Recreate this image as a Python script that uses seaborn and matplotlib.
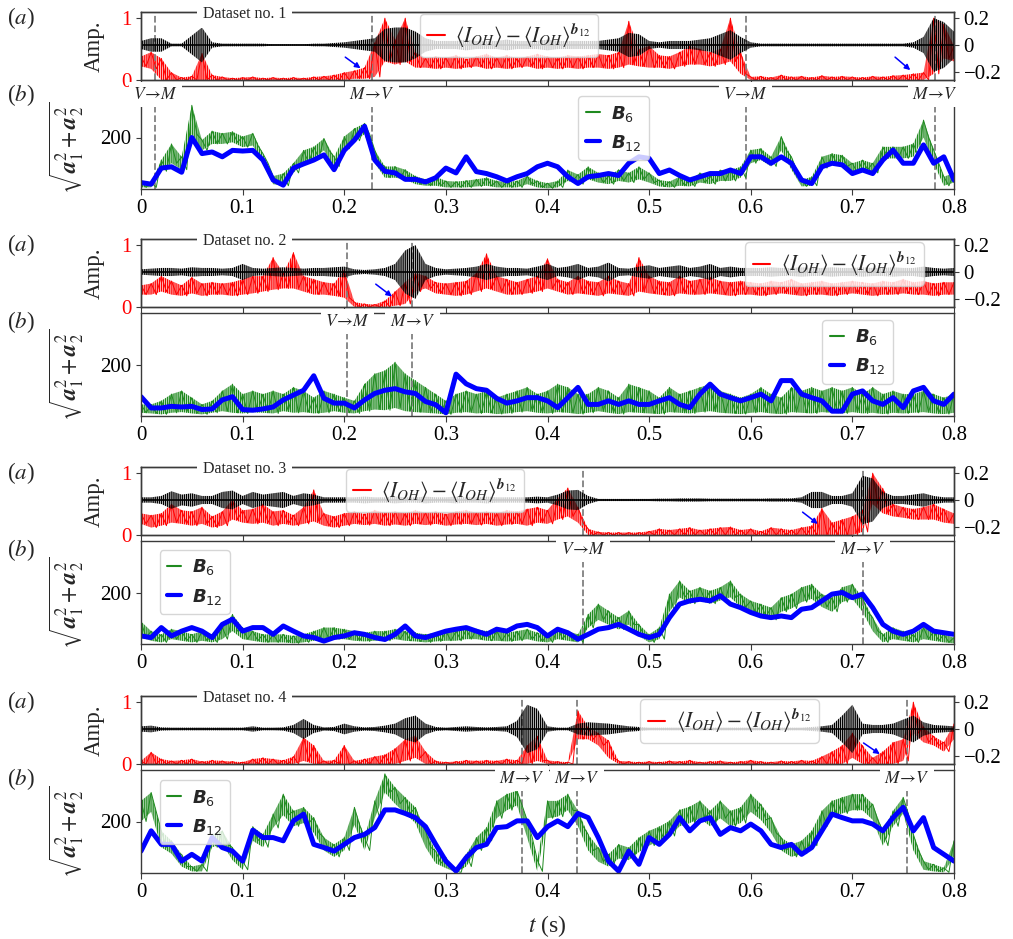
import numpy as np
import matplotlib
matplotlib.use("Agg")
import matplotlib.pyplot as plt
import matplotlib.transforms as mtransforms
from matplotlib.lines import Line2D
from matplotlib.font_manager import FontProperties
import seaborn as sns

# time grid (s), one reading every 0.01 s
t = np.round(np.arange(81) * 0.01, 2)

# ---------------- dataset no. 1 ----------------
red1_hi = [0.38,0.45,0.35,0.12,0.04,0.06,0.43,0.08,0.05,0.03,
           0.04,0.05,0.03,0.04,0.03,0.04,0.03,0.05,0.06,0.08,
           0.12,0.15,0.20,0.60,1.00,0.65,1.00,0.45,0.35,0.38,
           0.36,0.40,0.34,0.38,0.42,0.36,0.40,0.35,0.38,0.42,
           0.38,0.36,0.40,0.38,0.40,0.42,0.40,0.45,0.95,0.50,
           0.55,0.40,0.38,0.45,0.55,0.50,0.45,0.50,1.00,0.45,
           0.05,0.06,0.04,0.08,0.05,0.06,0.04,0.07,0.05,0.06,
           0.05,0.04,0.06,0.05,0.07,0.08,0.10,0.12,1.00,0.90,
           0.55]
red1_lo = [0.22,0.18,0.00,0.00,0.00,0.00,0.00,0.00,0.00,0.00,
           0.00,0.00,0.00,0.00,0.00,0.00,0.00,0.00,0.00,0.00,
           0.00,0.02,0.02,0.05,0.30,0.25,0.30,0.20,0.20,0.18,
           0.20,0.18,0.20,0.22,0.18,0.20,0.18,0.20,0.22,0.18,
           0.20,0.18,0.20,0.18,0.20,0.20,0.18,0.20,0.25,0.22,
           0.20,0.20,0.18,0.22,0.25,0.25,0.22,0.25,0.30,0.10,
           0.00,0.00,0.00,0.00,0.00,0.00,0.00,0.00,0.00,0.00,
           0.00,0.00,0.00,0.00,0.00,0.00,0.00,0.00,0.10,0.35,
           0.30]
blk1 = [0.03,0.05,0.05,0.01,0.01,0.07,0.13,0.02,0.01,0.01,
        0.01,0.01,0.01,0.005,0.005,0.005,0.005,0.01,0.01,0.015,
        0.02,0.03,0.04,0.05,0.12,0.13,0.13,0.10,0.05,0.03,
        0.03,0.03,0.04,0.03,0.03,0.03,0.04,0.03,0.03,0.03,
        0.04,0.03,0.03,0.03,0.03,0.03,0.04,0.05,0.09,0.08,
        0.03,0.02,0.03,0.03,0.03,0.04,0.05,0.08,0.11,0.06,
        0.02,0.01,0.01,0.01,0.01,0.01,0.01,0.01,0.01,0.01,
        0.01,0.01,0.01,0.01,0.01,0.01,0.02,0.06,0.20,0.17,
        0.10]
green1_hi = [65,60,130,180,140,300,192,220,213,218,
             203,213,150,80,88,120,160,171,197,140,
             203,228,244,161,110,110,100,80,70,78,
             65,63,66,70,75,65,62,65,80,65,
             58,65,99,85,109,90,80,100,90,109,
             90,68,63,78,68,90,80,99,99,109,
             161,166,140,203,140,68,78,140,150,145,
             120,130,120,171,171,171,181,254,161,78,
             90]
green1_lo = [45,45,95,120,100,210,160,180,180,185,
             170,175,120,55,50,90,120,135,160,110,
             165,190,210,120,75,75,70,55,50,50,
             45,45,45,48,50,45,45,45,55,45,
             42,45,65,55,70,60,55,65,60,70,
             60,48,45,50,48,60,55,65,65,75,
             120,130,110,160,100,48,50,105,115,110,
             90,100,90,135,135,135,140,200,120,50,
             60]
blue1 = [60,55,105,109,92,200,150,155,140,160,
         158,160,130,68,52,105,118,130,146,100,
         160,192,235,130,95,90,70,70,62,75,
         105,90,140,94,88,78,65,78,88,109,
         120,109,78,57,78,82,88,82,120,140,
         135,88,99,82,68,78,88,88,99,88,
         140,140,120,140,120,68,57,109,120,115,
         88,99,88,130,161,120,120,177,120,140,
         68]
trans1 = [(0.014, 'V', 'M'), (0.227, 'M', 'V'), (0.595, 'V', 'M'), (0.781, 'M', 'V')]
arrows1 = [(0.201, 0.37, 0.216, 0.19), (0.742, 0.37, 0.757, 0.16)]

# ---------------- dataset no. 2 ----------------
red2_hi = [0.35,0.38,0.50,0.42,0.35,0.48,0.38,0.40,0.38,0.40,
           0.45,0.50,0.50,0.80,0.55,0.88,0.50,0.45,0.40,0.38,
           0.60,0.08,0.05,0.04,0.10,0.25,0.40,0.55,0.50,0.40,
           0.38,0.40,0.42,0.55,0.86,0.50,0.45,0.40,0.45,0.50,
           0.78,0.45,0.40,0.50,0.42,0.40,0.50,0.42,0.38,0.80,
           0.50,0.42,0.40,0.50,0.42,0.45,0.48,0.42,0.40,0.42,
           0.40,0.38,0.42,0.40,0.45,0.38,0.40,0.42,0.38,0.40,
           0.42,0.40,0.38,0.42,0.40,0.45,0.40,0.42,0.38,0.40,
           0.40]
red2_lo = [0.20,0.20,0.25,0.20,0.18,0.22,0.18,0.20,0.20,0.18,
           0.20,0.22,0.25,0.28,0.30,0.30,0.25,0.20,0.20,0.18,
           0.15,0.00,0.00,0.00,0.00,0.02,0.05,0.25,0.30,0.22,
           0.20,0.18,0.20,0.25,0.30,0.25,0.20,0.20,0.22,0.25,
           0.30,0.25,0.20,0.22,0.20,0.18,0.22,0.20,0.18,0.25,
           0.22,0.20,0.18,0.22,0.20,0.20,0.22,0.20,0.18,0.20,
           0.20,0.18,0.20,0.22,0.20,0.18,0.20,0.20,0.18,0.20,
           0.22,0.20,0.18,0.20,0.20,0.22,0.20,0.20,0.18,0.20,
           0.20]
blk2 = [0.02,0.025,0.03,0.03,0.025,0.035,0.03,0.03,0.025,0.03,
        0.06,0.03,0.025,0.03,0.035,0.03,0.025,0.03,0.03,0.035,
        0.04,0.02,0.015,0.02,0.03,0.06,0.16,0.20,0.06,0.03,
        0.02,0.025,0.03,0.04,0.06,0.04,0.03,0.03,0.025,0.04,
        0.06,0.03,0.04,0.06,0.03,0.04,0.07,0.03,0.025,0.04,
        0.05,0.03,0.04,0.05,0.03,0.04,0.06,0.03,0.04,0.03,
        0.03,0.03,0.035,0.03,0.03,0.035,0.03,0.03,0.035,0.03,
        0.03,0.035,0.03,0.03,0.035,0.03,0.03,0.04,0.03,0.025,
        0.03]
green2_hi = [76,76,87,108,118,97,76,87,118,139,
             108,118,108,118,108,129,118,97,118,108,
             97,87,139,171,181,207,171,150,129,108,
             87,108,118,108,118,97,108,118,129,108,
             118,139,129,108,108,129,118,97,139,129,
             118,97,129,108,118,129,139,118,108,97,
             108,129,108,97,129,118,129,118,129,118,
             129,108,129,108,118,108,108,118,108,97,
             108]
green2_lo = [50,48,45,50,52,48,45,50,55,50,
             48,52,50,48,55,50,52,48,50,55,
             50,48,55,60,58,65,55,52,50,48,
             45,50,52,48,50,46,48,52,55,50,
             48,52,50,46,50,55,50,46,52,50,
             48,46,52,50,48,52,55,50,48,46,
             50,52,48,46,52,50,48,52,50,48,
             52,48,50,46,50,48,50,52,48,46,
             50]
blue2 = [100,65,65,70,68,70,60,62,90,100,
         60,58,62,68,90,105,120,165,95,80,
         80,65,90,110,120,125,115,110,85,75,
         50,170,140,125,120,95,80,87,97,97,
         87,66,97,129,76,76,87,76,87,76,
         76,87,97,76,66,108,139,108,97,87,
         97,108,87,150,150,108,97,87,55,55,
         108,118,87,76,97,66,118,129,87,76,
         108]
trans2 = [(0.203, 'V', 'M'), (0.267, 'M', 'V')]
arrows2 = [(0.231, 0.37, 0.247, 0.17)]

# ---------------- dataset no. 3 ----------------
red3_hi = [0.35,0.32,0.35,0.50,0.40,0.38,0.45,0.30,0.38,0.57,
           0.40,0.42,0.50,0.38,0.40,0.32,0.45,0.73,0.35,0.30,
           0.35,0.38,0.34,0.40,0.36,0.38,0.35,0.40,0.36,0.38,
           0.34,0.38,0.40,0.36,0.38,0.35,0.40,0.38,0.42,0.45,
           0.40,0.60,0.76,0.45,0.10,0.05,0.04,0.04,0.04,0.04,
           0.06,0.10,0.08,0.10,0.12,0.08,0.10,0.12,0.13,0.08,
           0.10,0.06,0.12,0.10,0.08,0.12,0.15,0.43,0.20,0.25,
           0.30,0.40,1.00,0.75,0.50,0.45,0.42,0.45,0.50,0.42,
           0.35]
red3_lo = [0.18,0.12,0.15,0.20,0.18,0.15,0.18,0.12,0.15,0.25,
           0.20,0.18,0.20,0.15,0.18,0.15,0.18,0.22,0.15,0.12,
           0.15,0.18,0.16,0.18,0.15,0.17,0.15,0.18,0.16,0.18,
           0.15,0.17,0.18,0.16,0.18,0.15,0.17,0.18,0.15,0.20,
           0.18,0.25,0.30,0.20,0.00,0.00,0.00,0.00,0.00,0.00,
           0.00,0.00,0.00,0.00,0.00,0.00,0.00,0.00,0.00,0.00,
           0.00,0.00,0.00,0.00,0.00,0.00,0.00,0.00,0.00,0.00,
           0.00,0.05,0.50,0.35,0.30,0.28,0.25,0.25,0.25,0.20,
           0.18]
blk3 = [0.02,0.02,0.03,0.065,0.04,0.05,0.03,0.03,0.06,0.07,
        0.03,0.06,0.04,0.05,0.06,0.03,0.05,0.04,0.02,0.02,
        0.02,0.02,0.025,0.02,0.02,0.025,0.02,0.02,0.025,0.02,
        0.02,0.025,0.02,0.02,0.025,0.02,0.02,0.02,0.02,0.025,
        0.02,0.04,0.07,0.075,0.03,0.008,0.008,0.008,0.008,0.008,
        0.008,0.01,0.01,0.012,0.012,0.012,0.01,0.01,0.01,0.01,
        0.01,0.01,0.012,0.012,0.012,0.02,0.06,0.06,0.03,0.03,
        0.05,0.18,0.16,0.06,0.03,0.03,0.04,0.05,0.03,0.02,
        0.02]
green3_hi = [110,80,70,86,80,70,80,70,91,132,
             91,80,70,70,70,65,70,80,91,91,
             86,80,75,80,80,86,80,75,70,75,
             80,80,86,86,80,80,75,80,86,75,
             70,91,80,70,132,164,143,122,143,101,
             70,91,195,236,205,216,205,216,236,195,
             174,164,153,184,195,216,226,195,184,216,
             226,184,122,70,91,80,70,91,80,70,
             60]
green3_lo = [60,50,45,55,50,45,50,45,55,80,
             55,50,45,45,45,42,45,50,55,55,
             55,50,48,50,50,55,50,48,45,48,
             50,50,55,55,50,50,48,50,55,48,
             45,55,50,45,90,115,100,85,100,65,
             45,55,140,185,165,175,165,175,185,155,
             135,125,115,140,150,170,180,155,140,170,
             180,140,80,45,55,50,45,55,50,45,
             42]
blue3 = [65,60,91,65,80,91,80,60,101,117,
         80,91,91,70,96,80,65,60,49,60,
         65,75,70,60,54,70,96,65,60,70,
         80,86,91,80,70,86,80,96,101,91,
         65,86,75,55,70,86,91,101,86,70,
         60,70,122,164,174,179,174,190,164,153,
         138,127,122,127,122,148,153,174,195,200,
         184,195,153,101,80,70,80,101,80,75,
         70]
trans3 = [(0.435, 'V', 'M'), (0.710, 'M', 'V')]
arrows3 = [(0.651, 0.37, 0.666, 0.18)]

# ---------------- dataset no. 4 ----------------
red4_hi = [0.05,0.19,0.08,0.05,0.06,0.08,0.04,0.06,0.05,0.04,
           0.03,0.08,0.10,0.08,0.06,0.12,0.43,0.30,0.05,0.06,
           0.30,0.05,0.08,0.12,0.15,0.25,0.40,0.46,0.20,0.05,
           0.03,0.04,0.06,0.05,0.06,0.05,0.08,0.06,0.30,0.45,
           0.06,0.04,0.03,0.86,0.60,0.50,0.38,0.05,0.04,0.03,
           0.04,0.03,0.05,0.04,0.06,0.03,0.04,0.05,0.03,0.04,
           0.06,0.04,0.03,0.05,0.04,0.06,0.05,0.12,0.20,0.30,
           0.50,0.30,0.10,0.20,0.35,0.40,1.00,0.60,0.45,0.35,
           0.65]
red4_lo = [0,0,0,0,0,0,0,0,0,0,
           0,0,0,0,0,0,0.05,0,0,0,
           0,0,0,0,0,0,0.05,0.10,0,0,
           0,0,0,0,0,0,0,0,0,0.05,
           0,0,0,0.40,0.40,0.30,0.10,0,0,0,
           0,0,0,0,0,0,0,0,0,0,
           0,0,0,0,0,0,0,0,0,0,
           0.10,0,0,0,0,0.05,0.50,0.35,0.30,0.20,
           0.40]
blk4 = [0.02,0.025,0.012,0.01,0.01,0.01,0.01,0.01,0.01,0.01,
        0.01,0.02,0.01,0.01,0.012,0.03,0.075,0.03,0.012,0.015,
        0.04,0.02,0.012,0.015,0.025,0.04,0.08,0.10,0.04,0.015,
        0.01,0.015,0.02,0.015,0.012,0.015,0.02,0.06,0.18,0.15,
        0.02,0.01,0.01,0.04,0.05,0.045,0.04,0.03,0.02,0.015,
        0.01,0.01,0.01,0.01,0.01,0.01,0.01,0.01,0.01,0.01,
        0.01,0.01,0.01,0.01,0.01,0.01,0.015,0.02,0.03,0.10,
        0.18,0.04,0.03,0.03,0.04,0.07,0.10,0.05,0.03,0.025,
        0.02]
green4_hi = [264,290,171,140,98,60,67,160,171,119,
             77,184,160,223,285,233,244,212,150,129,
             150,244,150,264,348,306,275,244,171,108,
             88,46,98,150,181,264,285,296,204,80,
             264,264,285,233,160,119,98,129,119,150,
             171,184,202,236,246,264,233,264,233,244,
             285,254,212,150,129,140,171,233,264,275,
             285,285,254,171,233,275,160,77,67,56,
             140]
green4_lo = [200,230,120,100,60,45,45,120,130,80,
             50,140,120,180,220,185,195,165,110,90,
             110,190,110,210,290,255,225,195,120,70,
             55,42,60,110,140,210,235,250,150,45,
             210,215,235,185,110,75,60,85,80,105,
             125,140,155,185,195,210,185,210,185,195,
             230,205,165,110,90,100,125,185,215,225,
             235,235,205,125,185,225,110,50,45,42,
             90]
blue4 = [108,171,129,129,77,98,77,150,119,108,
         77,173,150,150,140,202,223,129,119,108,
         129,150,160,181,236,236,225,212,184,129,
         77,46,88,119,129,181,184,202,202,150,
         184,202,184,225,212,150,77,46,108,67,
         150,129,160,212,171,202,212,160,181,171,
         192,171,129,119,129,98,119,171,223,212,
         202,202,192,171,212,244,171,212,119,98,
         77]
trans4 = [(0.375, 'M', 'V'), (0.429, 'M', 'V'), (0.754, 'M', 'V')]
arrows4 = [(0.711, 0.34, 0.727, 0.16)]

datasets = [
    (red1_hi, red1_lo, blk1, green1_hi, green1_lo, blue1, trans1, arrows1),
    (red2_hi, red2_lo, blk2, green2_hi, green2_lo, blue2, trans2, arrows2),
    (red3_hi, red3_lo, blk3, green3_hi, green3_lo, blue3, trans3, arrows3),
    (red4_hi, red4_lo, blk4, green4_hi, green4_lo, blue4, trans4, arrows4),
]

# legend anchors (axes fraction, upper-left corner of the frame)
leg_a_pos = [(0.343, 0.97), (0.743, 0.95), (0.252, 0.97), (0.614, 0.95)]
leg_b_pos = [(0.538, 0.90), (0.838, 0.93), (0.023, 0.91), (0.023, 0.90)]

sns.set_style("ticks")
plt.rcParams['font.family'] = ['Liberation Serif', 'DejaVu Serif']
plt.rcParams['mathtext.fontset'] = 'stix'
plt.rcParams['axes.edgecolor'] = '#3a3a3a'
plt.rcParams['xtick.color'] = '#3a3a3a'
plt.rcParams['ytick.color'] = '#3a3a3a'
plt.rcParams['xtick.labelcolor'] = 'black'
plt.rcParams['ytick.labelcolor'] = 'black'
plt.rcParams['hatch.linewidth'] = 1.0

RED, GREEN, BLUE = '#ff0000', '#1f8a1f', '#0000ff'
DENSE = '|' * 8

W, H = 1013, 939
fig = plt.figure(figsize=(W / 100, H / 100), dpi=100)

a_tops = [12, 239, 467, 696]
A_H, B_H, GAP = 68, 103, 6
X0, XW = 141, 813
TICK_FS = 15

xt = np.round(np.arange(0, 0.81, 0.1), 1)
xt_lab = ['0'] + ['%.1f' % v for v in xt[1:]]


def zigzag(hi, lo):
    x = np.column_stack([t, t + 0.005]).ravel()
    y = np.column_stack([hi, lo]).ravel()
    return x, y


def dense_band(ax, lo, hi, color):
    # fast oscillation drawn as a densely hatched band between its extremes
    ax.fill_between(t, lo, hi, facecolor='none', edgecolor=color,
                    hatch=DENSE, lw=0)


for k, (rhi, rlo, blk, ghi, glo, blu, trans, arrows) in enumerate(datasets):
    top_a = a_tops[k]
    top_b = top_a + A_H + GAP
    ax_a = fig.add_axes([X0 / W, 1 - (top_a + A_H) / H, XW / W, A_H / H])
    ax_b = fig.add_axes([X0 / W, 1 - (top_b + B_H) / H, XW / W, B_H / H])
    axt = ax_a.twinx()

    # (a) red amplitude on the left axis
    dense_band(ax_a, rlo, rhi, RED)
    xr, yr = zigzag(rhi, rlo)
    sns.lineplot(x=xr, y=yr, ax=ax_a, color=RED, lw=0.7,
                 estimator=None, sort=False)
    # (a) black signal on the right axis
    env = np.array(blk)
    dense_band(axt, -env, env, 'black')
    sns.lineplot(x=t, y=np.zeros_like(t), ax=axt, color='black', lw=1.2,
                 estimator=None)

    # (b) B6 green, B12 blue
    dense_band(ax_b, glo, ghi, GREEN)
    xg, yg = zigzag(ghi, glo)
    sns.lineplot(x=xg, y=yg, ax=ax_b, color=GREEN, lw=0.7,
                 estimator=None, sort=False)
    sns.lineplot(x=t, y=blu, ax=ax_b, color=BLUE, lw=3.6,
                 estimator=None)

    for ax in (ax_a, ax_b, axt):
        ax.set_xlim(0, 0.8)
        for s in ax.spines.values():
            s.set_visible(True)
            s.set_linewidth(1.0)
    ax_a.set_ylim(0, 1.1)
    axt.set_ylim(-0.26, 0.245)
    ax_b.set_ylim(40, 360)

    ax_a.set_xticks(xt)
    ax_a.tick_params(axis='x', labelbottom=False, length=4)
    ax_b.set_xticks(xt)
    ax_b.set_xticklabels(xt_lab, fontsize=TICK_FS)
    ax_b.tick_params(axis='x', length=4)

    ax_a.set_yticks([0, 1])
    ax_a.set_yticklabels(['0', '1'], fontsize=TICK_FS, color=RED)
    axt.set_yticks([-0.2, 0, 0.2])
    axt.set_yticklabels(['\u22120.2', '0', '0.2'], fontsize=TICK_FS)
    ax_b.set_yticks([200])
    ax_b.set_yticklabels(['200'], fontsize=TICK_FS)

    ax_a.set_ylabel('Amp.', fontsize=16.5)
    ax_a.yaxis.set_label_coords(-0.045, 0.5)
    ax_b.set_ylabel(r'$\sqrt{\mathbfit{a}_1^2+\mathbfit{a}_2^2}$', fontsize=17)
    ax_b.yaxis.set_label_coords(-0.069, 0.4)

    ax_a.text(-0.148, 0.91, r'($a$)', transform=ax_a.transAxes,
              ha='center', va='center', fontsize=16.5)
    ax_b.text(-0.148, 0.91, r'($b$)', transform=ax_b.transAxes,
              ha='center', va='center', fontsize=16.5)

    # transitions: dashed lines and labels
    tr_b = mtransforms.blended_transform_factory(ax_b.transData, ax_b.transAxes)
    for (tx, s0, s1) in trans:
        ax_a.axvline(tx, color='#808080', ls='--', lw=1.3, zorder=1)
        ax_b.axvline(tx, color='#808080', ls='--', lw=1.3, zorder=1)
        ax_b.text(tx, 0.915, r'$%s\!\rightarrow\! %s$' % (s0, s1), transform=tr_b,
                  ha='center', va='center', fontsize=12.5, zorder=10, clip_on=False,
                  bbox=dict(boxstyle='square,pad=0.25', fc='white', ec='none'))

    tr_a = mtransforms.blended_transform_factory(axt.transData, axt.transAxes)
    axt.text(0.102, 0.97, 'Dataset no. %d' % (k + 1), transform=tr_a,
             ha='center', va='center', fontsize=11.5, zorder=10, clip_on=False,
             bbox=dict(boxstyle='square,pad=0.35', fc='white', ec='none'))

    for (x0, y0, x1, y1) in arrows:
        axt.annotate('', xy=(x1, y1), xytext=(x0, y0),
                     xycoords=ax_a.transData, textcoords=ax_a.transData,
                     arrowprops=dict(arrowstyle='-|>', color=BLUE, lw=1.1,
                                     mutation_scale=8, shrinkA=0, shrinkB=0))

    # legends
    h_red = [Line2D([], [], color=RED, lw=1.5)]
    axt.legend(h_red, [r'$\langle I_{OH}\rangle - \langle I_{OH}\rangle^{\mathbfit{b}_{12}}$'],
               loc='upper left', bbox_to_anchor=leg_a_pos[k], borderaxespad=0,
               fontsize=15.5, handlelength=0.8, handletextpad=0.5, framealpha=0.8,
               borderpad=0.35)
    h_b = [Line2D([], [], color=GREEN, lw=1.5),
           Line2D([], [], color=BLUE, lw=3.0)]
    ax_b.legend(h_b, [r'$\mathbfit{B}_{6}$', r'$\mathbfit{B}_{12}$'],
                loc='upper left', bbox_to_anchor=leg_b_pos[k], borderaxespad=0,
                prop=FontProperties(size=13, math_fontfamily='dejavusans'),
                handlelength=0.8, handletextpad=0.6, labelspacing=0.5,
                framealpha=0.8)

    if k == 3:
        ax_b.set_xlabel(r'$t$ (s)', fontsize=17, labelpad=8)

fig.savefig('out.png', dpi=100)
